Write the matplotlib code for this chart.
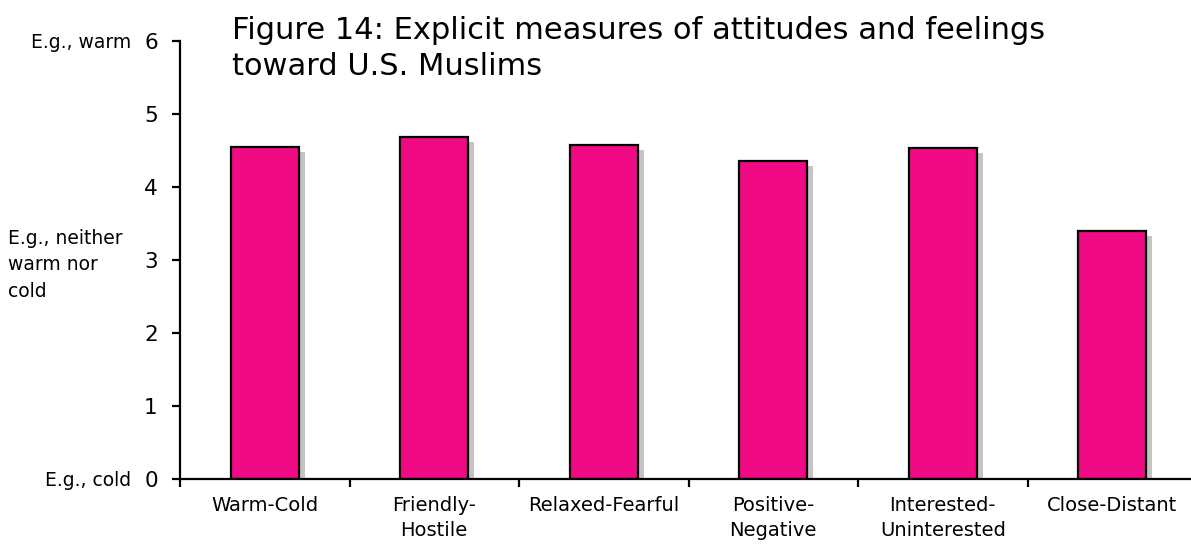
import matplotlib
matplotlib.use("Agg")
import matplotlib.pyplot as plt
from matplotlib.transforms import ScaledTranslation
import numpy as np

categories = ["Warm-Cold", "Friendly-\nHostile", "Relaxed-Fearful",
              "Positive-\nNegative", "Interested-\nUninterested", "Close-Distant"]
scores = [4.55, 4.68, 4.58, 4.36, 4.54, 3.40]
y_ticks = [0, 1, 2, 3, 4, 5, 6]

plt.rcParams["font.family"] = ["DejaVu Sans"]

W, H, DPI = 1191, 546, 100
fig = plt.figure(figsize=(W / DPI, H / DPI), dpi=DPI)
x0, x1 = 180, 1197
y0, y1 = 479, 41
ax = fig.add_axes([x0 / W, 1 - y0 / H, (x1 - x0) / W, (y0 - y1) / H])

x = np.arange(len(categories))
bar_w = 0.4

# drop shadow behind each bar
shadow = ScaledTranslation(6 / DPI, -5 / DPI, fig.dpi_scale_trans)
ax.bar(x, scores, width=bar_w, color="#c4c4c4", edgecolor="none",
       transform=ax.transData + shadow, zorder=1)
ax.bar(x, scores, width=bar_w, color="#F00A84", edgecolor="black",
       linewidth=1.6, zorder=2)

ax.set_xlim(-0.5, len(categories) - 0.5)
ax.set_ylim(0, 6)

for s in ["top", "right"]:
    ax.spines[s].set_visible(False)
for s in ["left", "bottom"]:
    ax.spines[s].set_linewidth(1.6)
    ax.spines[s].set_zorder(3)

ax.set_yticks(y_ticks)
ax.set_yticklabels([str(v) for v in y_ticks], fontsize=15.5)
ax.tick_params(axis="y", direction="out", length=6, width=1.6, pad=10)

ax.set_xticks(x)
ax.set_xticklabels(categories, fontsize=14, va="top", linespacing=1.45)
ax.tick_params(axis="x", which="major", length=0, pad=12)
ax.set_xticks(np.arange(len(categories) + 1) - 0.5, minor=True)
ax.tick_params(axis="x", which="minor", direction="out", length=6, width=1.6)

# anchor captions beside the value scale
fig.text(131 / W, 1 - 42 / H, "E.g., warm", fontsize=13.5, ha="right", va="center")
fig.text(131 / W, 1 - 481 / H, "E.g., cold", fontsize=13.5, ha="right", va="center")
fig.text(8 / W, 1 - 265 / H, "E.g., neither\nwarm nor\ncold", fontsize=13.5,
         ha="left", va="center", linespacing=1.5)

fig.text(232 / W, 1 - 16 / H,
         "Figure 14: Explicit measures of attitudes and feelings\ntoward U.S. Muslims",
         fontsize=22, ha="left", va="top", linespacing=1.3)

fig.savefig("out.png", dpi=DPI)
